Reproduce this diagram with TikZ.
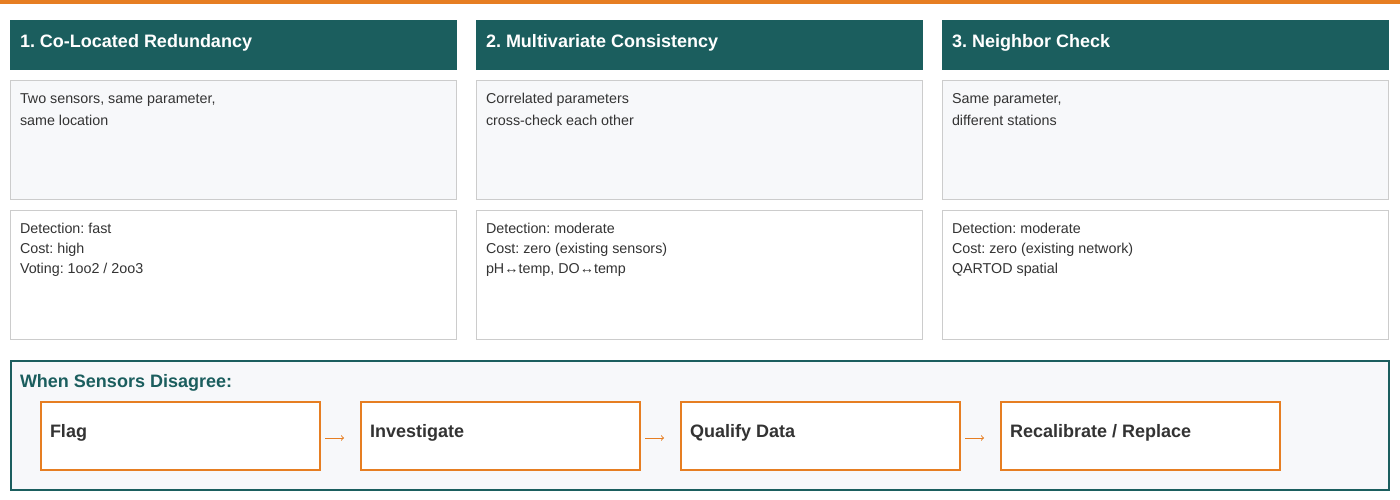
\documentclass[tikz,border=0pt]{standalone}
\usepackage{fontspec}
\setmainfont{Liberation Sans}
\definecolor{tealhead}{HTML}{1B5E5E}
\definecolor{accent}{HTML}{E67E22}
\definecolor{panel}{HTML}{F7F8FA}
\definecolor{rim}{HTML}{CCCCCC}
\definecolor{ink}{HTML}{333333}
\frenchspacing
\newcommand{\method}[5]{%
    \node[headbox] (h#1) at (#2,20) {};
    \node[boldtext,text=white] at ([shift={(10pt,-27.5pt)}]h#1.north west) {#3};
    \node[descbox] (d#1) at (#2+0.5,80.5) {};
    \node[plaintext,font=\fontsize{14.3}{22}\selectfont] at ([shift={(9.5pt,-13pt)}]d#1.north west) {#4};
    \node[infobox] (c#1) at (#2+0.5,210.5) {};
    \node[plaintext,font=\fontsize{14.3}{20}\selectfont] at ([shift={(9.5pt,-13pt)}]c#1.north west) {#5};
}

\begin{document}
\begin{tikzpicture}[x=1pt,y=-1pt,outer sep=0pt,
  headbox/.style={fill=tealhead,minimum width=447pt,minimum height=50pt,anchor=north west,inner sep=0},
  descbox/.style={fill=panel,draw=rim,minimum width=446pt,minimum height=119pt,anchor=north west,inner sep=0},
  infobox/.style={fill=white,draw=rim,minimum width=446pt,minimum height=129pt,anchor=north west,inner sep=0},
  plaintext/.style={anchor=north west,align=left,inner sep=0,text=ink},
  boldtext/.style={anchor=base west,inner sep=0,font=\fontsize{18}{22}\selectfont\bfseries},
  stepbox/.style={draw=accent,line width=2pt,fill=white,minimum width=279pt,minimum height=68pt,anchor=north west,inner sep=0}
]
\useasboundingbox (0,0) rectangle (1400,500);
\fill[accent] (0,0) rectangle (1400,4);

% three methods
\method{1}{10}{1. Co-Located Redundancy}{Two sensors, same parameter,\\same location}{Detection: fast\\Cost: high\\Voting: 1oo2 / 2oo3}
\method{2}{476}{2. Multivariate Consistency}{Correlated parameters\\cross-check each other}{Detection: moderate\\Cost: zero (existing sensors)\\pH↔temp, DO↔temp}
\method{3}{942}{3. Neighbor Check}{Same parameter,\\different stations}{Detection: moderate\\Cost: zero (existing network)\\QARTOD spatial}

% escalation
\node[draw=tealhead,line width=2pt,fill=panel,minimum width=1378pt,minimum height=129pt,anchor=north west,inner sep=0] (w) at (11,361) {};
\node[boldtext,text=tealhead] at ([shift={(9pt,-26pt)}]w.north west) {When Sensors Disagree:};
\foreach \n/\xx/\lbl in{
1/41/{Flag},
2/361/{Investigate},
3/681/{Qualify Data},
4/1001/{Recalibrate / Replace}
}
{
    \node[stepbox] (s\n) at (\xx,401.5) {};
    \node[boldtext,text=ink] at ([shift={(9pt,-36pt)}]s\n.north west) {\lbl};
}
\foreach \a/\b in {1/2,2/3,3/4}
    \draw[accent,line width=1pt,-to,shorten <=5pt,shorten >=17pt] ([yshift=-2.5pt]s\a.east) -- ([yshift=-2.5pt]s\b.west);
\end{tikzpicture}
\end{document}
